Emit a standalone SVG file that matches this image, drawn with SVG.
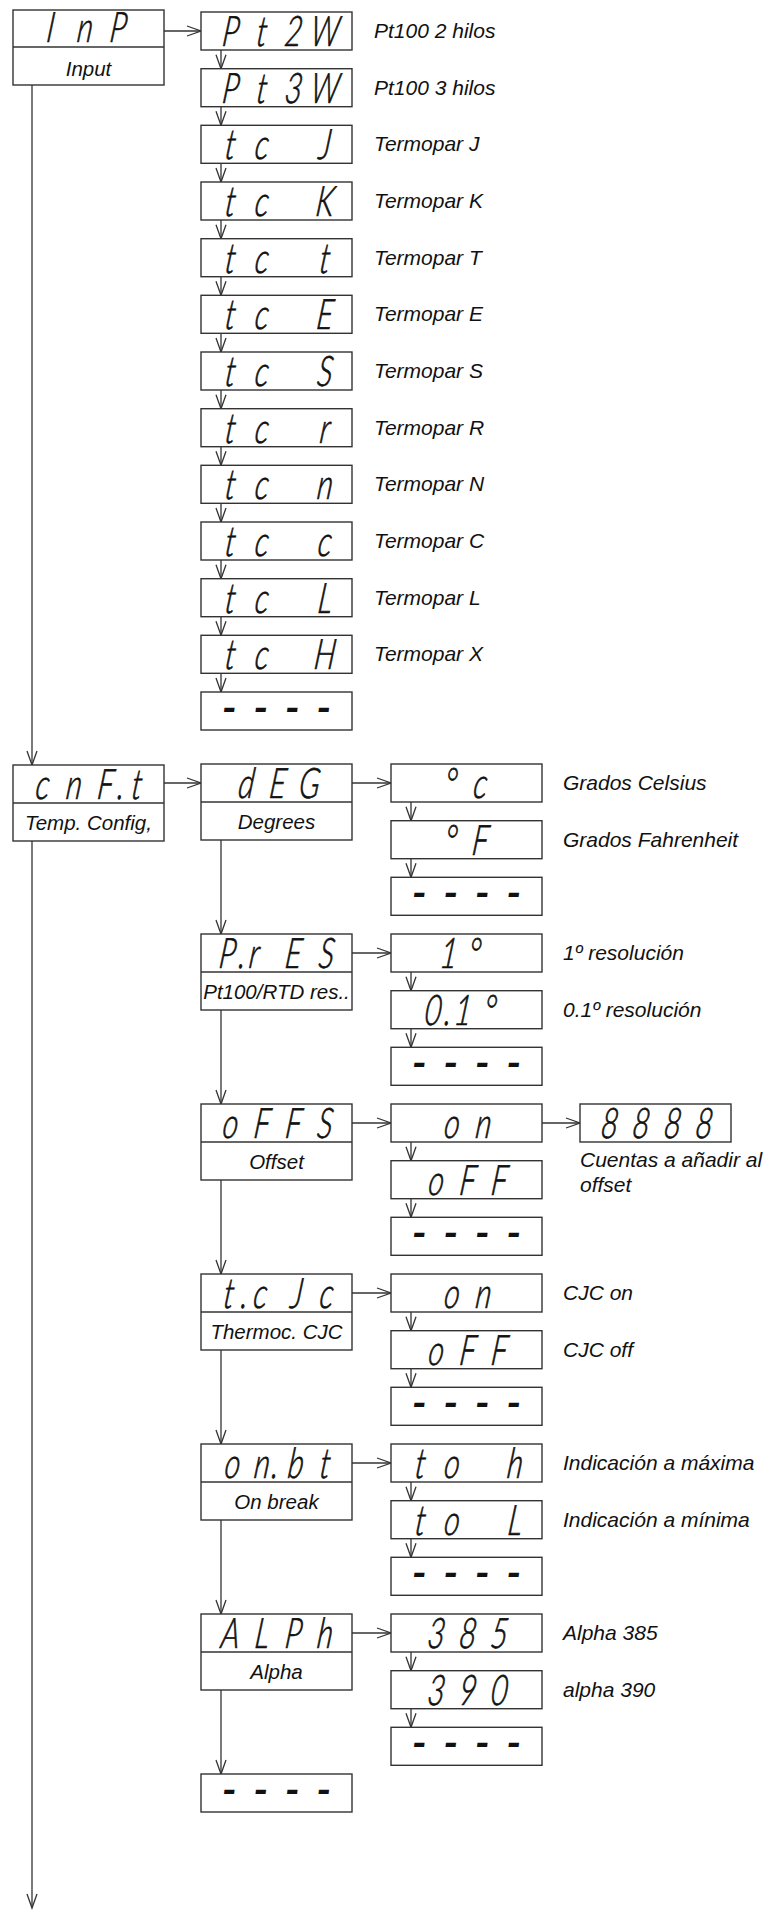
<svg xmlns="http://www.w3.org/2000/svg" width="769" height="1910" viewBox="0 0 769 1910">
<style>
.bg{fill:#fff}
.box{fill:#fff;stroke:#333;stroke-width:1.4}
.div{stroke:#333;stroke-width:1.4}
.ln{fill:none;stroke:#333;stroke-width:1.3}
.seg{font-family:Lato,"Liberation Sans",Arial,sans-serif;font-style:italic;font-weight:300;font-size:42px;fill:#111;stroke:#111;stroke-width:0.7;text-anchor:middle}
.dash{font-family:Lato,"Liberation Sans",Arial,sans-serif;font-style:italic;font-weight:700;font-size:42px;fill:#111;text-anchor:middle}
.lbl{font-family:"Liberation Sans",Arial,sans-serif;font-style:italic;font-size:21px;fill:#111}
.lblc{font-family:"Liberation Sans",Arial,sans-serif;font-style:italic;font-size:20.5px;fill:#111;text-anchor:middle}
</style>
<defs>
<marker id="ah" markerUnits="userSpaceOnUse" markerWidth="18" markerHeight="14" refX="15" refY="6" orient="auto">
<path d="M1,1 L15,6 L1,11" fill="none" stroke="#333" stroke-width="1.3"/>
</marker>
</defs>
<rect class="bg" x="0" y="0" width="769" height="1910"/>

<g id="connectors">
<line class="ln" x1="164" y1="31" x2="201" y2="31" marker-end="url(#ah)"/>
<line class="ln" x1="32" y1="85" x2="32" y2="765" marker-end="url(#ah)"/>
<line class="ln" x1="32" y1="841" x2="32" y2="1908" marker-end="url(#ah)"/>
<line class="ln" x1="221" y1="50" x2="221" y2="68.7" marker-end="url(#ah)"/>
<line class="ln" x1="221" y1="106.7" x2="221" y2="125.3" marker-end="url(#ah)"/>
<line class="ln" x1="221" y1="163.3" x2="221" y2="182" marker-end="url(#ah)"/>
<line class="ln" x1="221" y1="220" x2="221" y2="238.7" marker-end="url(#ah)"/>
<line class="ln" x1="221" y1="276.7" x2="221" y2="295.3" marker-end="url(#ah)"/>
<line class="ln" x1="221" y1="333.3" x2="221" y2="352" marker-end="url(#ah)"/>
<line class="ln" x1="221" y1="390" x2="221" y2="408.7" marker-end="url(#ah)"/>
<line class="ln" x1="221" y1="446.7" x2="221" y2="465.3" marker-end="url(#ah)"/>
<line class="ln" x1="221" y1="503.3" x2="221" y2="522" marker-end="url(#ah)"/>
<line class="ln" x1="221" y1="560" x2="221" y2="578.7" marker-end="url(#ah)"/>
<line class="ln" x1="221" y1="616.7" x2="221" y2="635.3" marker-end="url(#ah)"/>
<line class="ln" x1="221" y1="673.3" x2="221" y2="692" marker-end="url(#ah)"/>
<line class="ln" x1="164" y1="783" x2="201" y2="783" marker-end="url(#ah)"/>
<line class="ln" x1="221" y1="840" x2="221" y2="934" marker-end="url(#ah)"/>
<line class="ln" x1="221" y1="1010" x2="221" y2="1104" marker-end="url(#ah)"/>
<line class="ln" x1="221" y1="1180" x2="221" y2="1274" marker-end="url(#ah)"/>
<line class="ln" x1="221" y1="1350" x2="221" y2="1444" marker-end="url(#ah)"/>
<line class="ln" x1="221" y1="1520" x2="221" y2="1614" marker-end="url(#ah)"/>
<line class="ln" x1="221" y1="1690" x2="221" y2="1774" marker-end="url(#ah)"/>
<line class="ln" x1="352" y1="783" x2="391" y2="783" marker-end="url(#ah)"/>
<line class="ln" x1="352" y1="953" x2="391" y2="953" marker-end="url(#ah)"/>
<line class="ln" x1="352" y1="1123" x2="391" y2="1123" marker-end="url(#ah)"/>
<line class="ln" x1="352" y1="1293" x2="391" y2="1293" marker-end="url(#ah)"/>
<line class="ln" x1="352" y1="1463" x2="391" y2="1463" marker-end="url(#ah)"/>
<line class="ln" x1="352" y1="1633" x2="391" y2="1633" marker-end="url(#ah)"/>
<line class="ln" x1="542" y1="1123" x2="580" y2="1123" marker-end="url(#ah)"/>
<line class="ln" x1="411" y1="802" x2="411" y2="820.7" marker-end="url(#ah)"/>
<line class="ln" x1="411" y1="858.7" x2="411" y2="877.3" marker-end="url(#ah)"/>
<line class="ln" x1="411" y1="972" x2="411" y2="990.7" marker-end="url(#ah)"/>
<line class="ln" x1="411" y1="1028.7" x2="411" y2="1047.3" marker-end="url(#ah)"/>
<line class="ln" x1="411" y1="1142" x2="411" y2="1160.7" marker-end="url(#ah)"/>
<line class="ln" x1="411" y1="1198.7" x2="411" y2="1217.3" marker-end="url(#ah)"/>
<line class="ln" x1="411" y1="1312" x2="411" y2="1330.7" marker-end="url(#ah)"/>
<line class="ln" x1="411" y1="1368.7" x2="411" y2="1387.3" marker-end="url(#ah)"/>
<line class="ln" x1="411" y1="1482" x2="411" y2="1500.7" marker-end="url(#ah)"/>
<line class="ln" x1="411" y1="1538.7" x2="411" y2="1557.3" marker-end="url(#ah)"/>
<line class="ln" x1="411" y1="1652" x2="411" y2="1670.7" marker-end="url(#ah)"/>
<line class="ln" x1="411" y1="1708.7" x2="411" y2="1727.3" marker-end="url(#ah)"/>
</g>

<!-- main column -->
<g id="n-inp">
<rect class="box" x="13" y="10" width="151" height="75"/>
<line class="div" x1="13" y1="47" x2="164" y2="47"/>
<text class="seg" transform="translate(88.5,42) skewX(-7) scale(0.72,1)" x="-54.7 -6.6 39.4">InP</text>
<text class="lblc" x="88.5" y="76">Input</text>
</g>
<g id="n-cnft">
<rect class="box" x="13" y="765" width="151" height="76"/>
<line class="div" x1="13" y1="803" x2="164" y2="803"/>
<text class="seg" transform="translate(88.5,799) skewX(-7) scale(0.72,1)" x="-65.6 -21.9 21.9 43.75 65.6">cnF.t</text>
<text class="lblc" x="88.5" y="830">Temp. Config,</text>
</g>

<!-- input list -->
<g id="n-pt2w"><rect class="box" x="201" y="12" width="151" height="38"/>
<text class="seg" transform="translate(276.5,46) skewX(-7) scale(0.72,1)" x="-65.6 -21.9 21.9 65.6">Pt2W</text>
<text class="lbl" x="374" y="38">Pt100 2 hilos</text></g>
<g id="n-pt3w"><rect class="box" x="201" y="68.7" width="151" height="38"/>
<text class="seg" transform="translate(276.5,102.7) skewX(-7) scale(0.72,1)" x="-65.6 -21.9 21.9 65.6">Pt3W</text>
<text class="lbl" x="374" y="94.7">Pt100 3 hilos</text></g>
<g id="n-tcj"><rect class="box" x="201" y="125.3" width="151" height="38"/>
<text class="seg" transform="translate(276.5,159.3) skewX(-7) scale(0.72,1)" x="-65.6 -21.9 21.9 65.6">tc J</text>
<text class="lbl" x="374" y="151.3">Termopar J</text></g>
<g id="n-tck"><rect class="box" x="201" y="182" width="151" height="38"/>
<text class="seg" transform="translate(276.5,216) skewX(-7) scale(0.72,1)" x="-65.6 -21.9 21.9 65.6">tc K</text>
<text class="lbl" x="374" y="208">Termopar K</text></g>
<g id="n-tct"><rect class="box" x="201" y="238.7" width="151" height="38"/>
<text class="seg" transform="translate(276.5,272.7) skewX(-7) scale(0.72,1)" x="-65.6 -21.9 21.9 65.6">tc t</text>
<text class="lbl" x="374" y="264.7">Termopar T</text></g>
<g id="n-tce"><rect class="box" x="201" y="295.3" width="151" height="38"/>
<text class="seg" transform="translate(276.5,329.3) skewX(-7) scale(0.72,1)" x="-65.6 -21.9 21.9 65.6">tc E</text>
<text class="lbl" x="374" y="321.3">Termopar E</text></g>
<g id="n-tcs"><rect class="box" x="201" y="352" width="151" height="38"/>
<text class="seg" transform="translate(276.5,386) skewX(-7) scale(0.72,1)" x="-65.6 -21.9 21.9 65.6">tc S</text>
<text class="lbl" x="374" y="378">Termopar S</text></g>
<g id="n-tcr"><rect class="box" x="201" y="408.7" width="151" height="38"/>
<text class="seg" transform="translate(276.5,442.7) skewX(-7) scale(0.72,1)" x="-65.6 -21.9 21.9 65.6">tc r</text>
<text class="lbl" x="374" y="434.7">Termopar R</text></g>
<g id="n-tcn"><rect class="box" x="201" y="465.3" width="151" height="38"/>
<text class="seg" transform="translate(276.5,499.3) skewX(-7) scale(0.72,1)" x="-65.6 -21.9 21.9 65.6">tc n</text>
<text class="lbl" x="374" y="491.3">Termopar N</text></g>
<g id="n-tcc"><rect class="box" x="201" y="522" width="151" height="38"/>
<text class="seg" transform="translate(276.5,556) skewX(-7) scale(0.72,1)" x="-65.6 -21.9 21.9 65.6">tc c</text>
<text class="lbl" x="374" y="548">Termopar C</text></g>
<g id="n-tcl"><rect class="box" x="201" y="578.7" width="151" height="38"/>
<text class="seg" transform="translate(276.5,612.7) skewX(-7) scale(0.72,1)" x="-65.6 -21.9 21.9 65.6">tc L</text>
<text class="lbl" x="374" y="604.7">Termopar L</text></g>
<g id="n-tcx"><rect class="box" x="201" y="635.3" width="151" height="38"/>
<text class="seg" transform="translate(276.5,669.3) skewX(-7) scale(0.72,1)" x="-65.6 -21.9 21.9 65.6">tc H</text>
<text class="lbl" x="374" y="661.3">Termopar X</text></g>
<g id="n-inp-end"><rect class="box" x="201" y="692" width="151" height="38"/>
<text class="dash" transform="translate(276.5,723)" x="-47.25 -15.75 15.75 47.25">----</text></g>

<!-- config submenu -->
<g id="n-deg"><rect class="box" x="201" y="764" width="151" height="76"/>
<line class="div" x1="201" y1="802" x2="352" y2="802"/>
<text class="seg" transform="translate(276.5,798) skewX(-7) scale(0.72,1)" x="-43.75 0 43.75">dEG</text>
<text class="lblc" x="276.5" y="828.5">Degrees</text></g>
<g id="n-pres"><rect class="box" x="201" y="934" width="151" height="76"/>
<line class="div" x1="201" y1="972" x2="352" y2="972"/>
<text class="seg" transform="translate(276.5,968) skewX(-7) scale(0.72,1)" x="-70 -49 -32.8 21.9 67.8">P.rES</text>
<text class="lblc" x="276.5" y="998.5">Pt100/RTD res..</text></g>
<g id="n-offs"><rect class="box" x="201" y="1104" width="151" height="76"/>
<line class="div" x1="201" y1="1142" x2="352" y2="1142"/>
<text class="seg" transform="translate(276.5,1138) skewX(-7) scale(0.72,1)" x="-65.6 -21.9 21.9 65.6">oFFS</text>
<text class="lblc" x="276.5" y="1168.5">Offset</text></g>
<g id="n-tcjc"><rect class="box" x="201" y="1274" width="151" height="76"/>
<line class="div" x1="201" y1="1312" x2="352" y2="1312"/>
<text class="seg" transform="translate(276.5,1308) skewX(-7) scale(0.72,1)" x="-67.8 -45.9 -24 26.25 67.8">t.cJc</text>
<text class="lblc" x="276.5" y="1338.5">Thermoc. CJC</text></g>
<g id="n-onbt"><rect class="box" x="201" y="1444" width="151" height="76"/>
<line class="div" x1="201" y1="1482" x2="352" y2="1482"/>
<text class="seg" transform="translate(276.5,1478) skewX(-7) scale(0.72,1)" x="-63 -21.9 -3 25 66">on.bt</text>
<text class="lblc" x="276.5" y="1508.5">On break</text></g>
<g id="n-alph"><rect class="box" x="201" y="1614" width="151" height="76"/>
<line class="div" x1="201" y1="1652" x2="352" y2="1652"/>
<text class="seg" transform="translate(276.5,1648) skewX(-7) scale(0.72,1)" x="-65.6 -21.9 21.9 65.6">ALPh</text>
<text class="lblc" x="276.5" y="1678.5">Alpha</text></g>
<g id="n-cnft-end"><rect class="box" x="201" y="1774" width="151" height="38"/>
<text class="dash" transform="translate(276.5,1805)" x="-47.25 -15.75 15.75 47.25">----</text></g>

<!-- degrees options -->
<g id="n-degc"><rect class="box" x="391" y="764" width="151" height="38"/>
<text class="seg" transform="translate(466.5,798) skewX(-7) scale(0.72,1)" x="-24 17.5">°c</text>
<text class="lbl" x="563" y="790">Grados Celsius</text></g>
<g id="n-degf"><rect class="box" x="391" y="820.7" width="151" height="38"/>
<text class="seg" transform="translate(466.5,854.7) skewX(-7) scale(0.72,1)" x="-24 17.5">°F</text>
<text class="lbl" x="563" y="846.7">Grados Fahrenheit</text></g>
<g id="n-deg-end"><rect class="box" x="391" y="877.3" width="151" height="38"/>
<text class="dash" transform="translate(466.5,908.3)" x="-47.25 -15.75 15.75 47.25">----</text></g>

<!-- resolution options -->
<g id="n-res1"><rect class="box" x="391" y="934" width="151" height="38"/>
<text class="seg" transform="translate(466.5,968) skewX(-7) scale(0.72,1)" x="-26.25 8.75">1°</text>
<text class="lbl" x="563" y="960">1º resolución</text></g>
<g id="n-res01"><rect class="box" x="391" y="990.7" width="151" height="38"/>
<text class="seg" transform="translate(466.5,1024.7) skewX(-7) scale(0.72,1)" x="-48.1 -27.1 -6.6 30.6">0.1°</text>
<text class="lbl" x="563" y="1016.7">0.1º resolución</text></g>
<g id="n-pres-end"><rect class="box" x="391" y="1047.3" width="151" height="38"/>
<text class="dash" transform="translate(466.5,1078.3)" x="-47.25 -15.75 15.75 47.25">----</text></g>

<!-- offset options -->
<g id="n-offs-on"><rect class="box" x="391" y="1104" width="151" height="38"/>
<text class="seg" transform="translate(466.5,1138) skewX(-7) scale(0.72,1)" x="-21.9 21.9">on</text></g>
<g id="n-offs-val"><rect class="box" x="580" y="1104" width="151" height="38"/>
<text class="seg" transform="translate(655.5,1138) skewX(-7) scale(0.72,1)" x="-65.6 -21.9 21.9 65.6">8888</text>
<text class="lbl" x="580" y="1167">Cuentas a añadir al</text>
<text class="lbl" x="580" y="1192">offset</text></g>
<g id="n-offs-off"><rect class="box" x="391" y="1160.7" width="151" height="38"/>
<text class="seg" transform="translate(466.5,1194.7) skewX(-7) scale(0.72,1)" x="-43.75 0 43.75">oFF</text></g>
<g id="n-offs-end"><rect class="box" x="391" y="1217.3" width="151" height="38"/>
<text class="dash" transform="translate(466.5,1248.3)" x="-47.25 -15.75 15.75 47.25">----</text></g>

<!-- CJC options -->
<g id="n-cjc-on"><rect class="box" x="391" y="1274" width="151" height="38"/>
<text class="seg" transform="translate(466.5,1308) skewX(-7) scale(0.72,1)" x="-21.9 21.9">on</text>
<text class="lbl" x="563" y="1300">CJC on</text></g>
<g id="n-cjc-off"><rect class="box" x="391" y="1330.7" width="151" height="38"/>
<text class="seg" transform="translate(466.5,1364.7) skewX(-7) scale(0.72,1)" x="-43.75 0 43.75">oFF</text>
<text class="lbl" x="563" y="1356.7">CJC off</text></g>
<g id="n-cjc-end"><rect class="box" x="391" y="1387.3" width="151" height="38"/>
<text class="dash" transform="translate(466.5,1418.3)" x="-47.25 -15.75 15.75 47.25">----</text></g>

<!-- on break options -->
<g id="n-toh"><rect class="box" x="391" y="1444" width="151" height="38"/>
<text class="seg" transform="translate(466.5,1478) skewX(-7) scale(0.72,1)" x="-65.6 -21.9 21.9 65.6">to h</text>
<text class="lbl" x="563" y="1470">Indicación a máxima</text></g>
<g id="n-tol"><rect class="box" x="391" y="1500.7" width="151" height="38"/>
<text class="seg" transform="translate(466.5,1534.7) skewX(-7) scale(0.72,1)" x="-65.6 -21.9 21.9 65.6">to L</text>
<text class="lbl" x="563" y="1526.7">Indicación a mínima</text></g>
<g id="n-onbt-end"><rect class="box" x="391" y="1557.3" width="151" height="38"/>
<text class="dash" transform="translate(466.5,1588.3)" x="-47.25 -15.75 15.75 47.25">----</text></g>

<!-- alpha options -->
<g id="n-a385"><rect class="box" x="391" y="1614" width="151" height="38"/>
<text class="seg" transform="translate(466.5,1648) skewX(-7) scale(0.72,1)" x="-43.75 0 43.75">385</text>
<text class="lbl" x="563" y="1640">Alpha 385</text></g>
<g id="n-a390"><rect class="box" x="391" y="1670.7" width="151" height="38"/>
<text class="seg" transform="translate(466.5,1704.7) skewX(-7) scale(0.72,1)" x="-43.75 0 43.75">390</text>
<text class="lbl" x="563" y="1696.7">alpha 390</text></g>
<g id="n-alph-end"><rect class="box" x="391" y="1727.3" width="151" height="38"/>
<text class="dash" transform="translate(466.5,1758.3)" x="-47.25 -15.75 15.75 47.25">----</text></g>
</svg>
